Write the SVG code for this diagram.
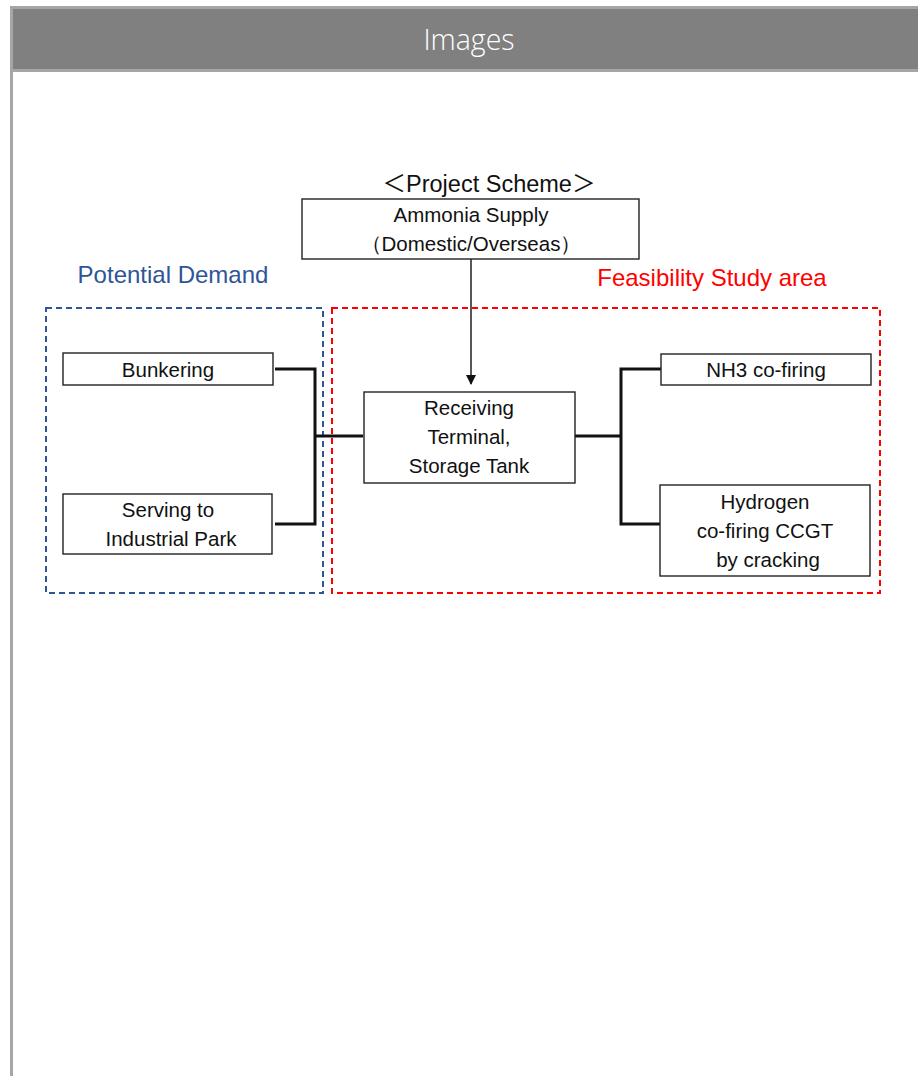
<svg xmlns="http://www.w3.org/2000/svg" width="918" height="1076" viewBox="0 0 918 1076">
<defs>
<style>
.box{fill:#fff;stroke:#222;stroke-width:1.4}
.t{font-family:"Liberation Sans",Arial,sans-serif;font-size:20.5px;fill:#111;text-anchor:middle}
.br{fill:none;stroke:#111;stroke-width:3}
</style>
<marker id="ah" markerWidth="10" markerHeight="10" refX="9" refY="5" orient="auto" markerUnits="userSpaceOnUse" viewBox="0 0 10 10">
<path d="M0,0 L10,5 L0,10 Z" fill="#111"/>
</marker>
</defs>
<rect x="0" y="0" width="918" height="1076" fill="#fff"/>
<g id="frame">
<rect x="10" y="6" width="910" height="66" fill="#a6a6a6"/>
<rect x="13" y="9" width="907" height="60" fill="#808080"/>
<rect x="10" y="72" width="3" height="1004" fill="#a6a6a6"/>
<text x="469" y="50" font-family="'Open Sans',sans-serif" font-weight="300" font-size="28.5" fill="#fff" text-anchor="middle">Images</text>
</g>
<g id="regions">
<rect x="46" y="308" width="277" height="285" fill="none" stroke="#2f5597" stroke-width="2" stroke-dasharray="6,4"/>
<rect x="332" y="308" width="548" height="285" fill="none" stroke="#ff0000" stroke-width="2" stroke-dasharray="6,4"/>
<text x="173" y="283" font-family="'Liberation Sans',Arial,sans-serif" font-size="24" fill="#2f5597" text-anchor="middle">Potential Demand</text>
<text x="712" y="286" font-family="'Liberation Sans',Arial,sans-serif" font-size="24" fill="#ff0000" text-anchor="middle">Feasibility Study area</text>
<text x="489" y="192" font-family="'Liberation Sans','Noto Sans CJK JP',sans-serif" font-size="23.5" fill="#111" text-anchor="middle">＜Project Scheme＞</text>
</g>
<g id="connectors">
<line x1="471" y1="259" x2="471" y2="384" stroke="#111" stroke-width="1.4" marker-end="url(#ah)"/>
<polyline class="br" points="275,369 315,369 315,524 275,524"/>
<line class="br" x1="315" y1="436" x2="363" y2="436"/>
<polyline class="br" points="661,369 621,369 621,524 661,524"/>
<line class="br" x1="575" y1="436" x2="621" y2="436"/>
</g>
<g id="ammonia">
<rect class="box" x="302" y="199" width="337" height="60"/>
<text class="t" x="471" y="222">Ammonia Supply</text>
<text class="t" x="471" y="251" font-family="'Liberation Sans','Noto Sans CJK JP',sans-serif">（Domestic/Overseas）</text>
</g>
<g id="bunkering">
<rect class="box" x="63" y="353" width="210" height="32"/>
<text class="t" x="168" y="377">Bunkering</text>
</g>
<g id="serving">
<rect class="box" x="63" y="494" width="209" height="60"/>
<text class="t" x="168" y="517">Serving to</text>
<text class="t" x="171" y="546">Industrial Park</text>
</g>
<g id="receiving">
<rect class="box" x="364" y="392" width="211" height="91"/>
<text class="t" x="469" y="415">Receiving</text>
<text class="t" x="469" y="444">Terminal,</text>
<text class="t" x="469" y="473">Storage Tank</text>
</g>
<g id="nh3">
<rect class="box" x="661" y="354" width="210" height="31"/>
<text class="t" x="766" y="377">NH3 co-firing</text>
</g>
<g id="hydrogen">
<rect class="box" x="660" y="485" width="210" height="91"/>
<text class="t" x="765" y="509">Hydrogen</text>
<text class="t" x="765" y="538">co-firing CCGT</text>
<text class="t" x="768" y="567">by cracking</text>
</g>
</svg>
